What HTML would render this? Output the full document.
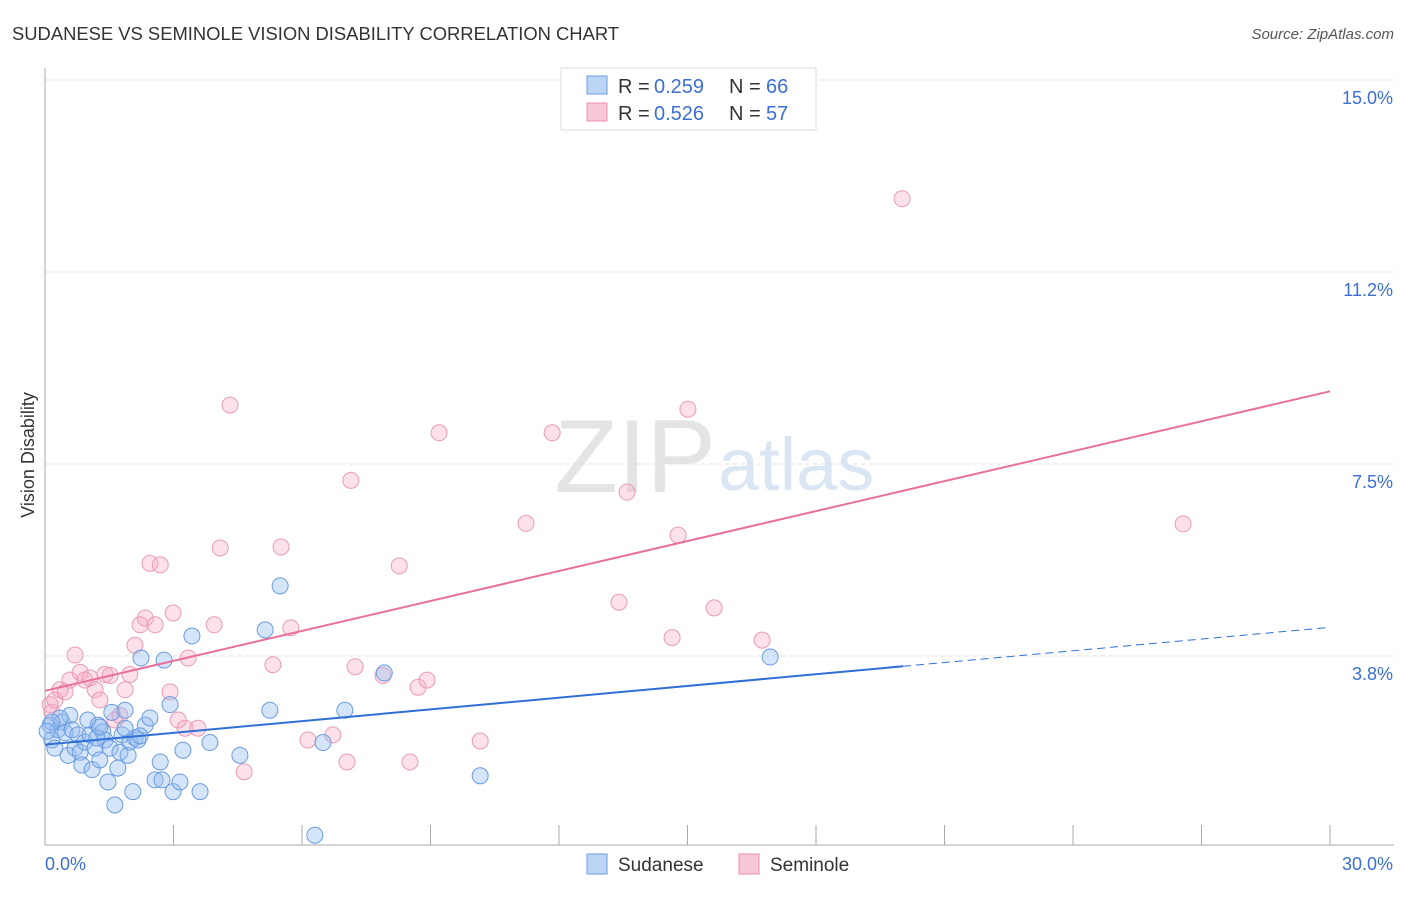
<!DOCTYPE html>
<html><head><meta charset="utf-8"><style>
body{margin:0;background:#fff;font-family:"Liberation Sans",sans-serif}
svg text{font-family:"Liberation Sans",sans-serif}
</style></head><body>
<svg id="chart" width="1406" height="892" xmlns="http://www.w3.org/2000/svg">
<text x="12" y="40" font-size="18.4" fill="#333">SUDANESE VS SEMINOLE VISION DISABILITY CORRELATION CHART</text>
<text x="1394" y="39" font-size="15" fill="#555" font-style="italic" text-anchor="end">Source: ZipAtlas.com</text>
<text x="716" y="492" font-size="104" fill="#e4e4e4" text-anchor="end" font-family="Liberation Serif">ZIP</text>
<text x="718" y="490" font-size="74" fill="#dbe6f5">atlas</text>
<text transform="translate(34,455) rotate(-90)" font-size="18" fill="#333" text-anchor="middle">Vision Disability</text>
<g id="grid"></g><g id="axes"></g><g id="marks"></g>
<g>
<rect x="561" y="68" width="255" height="62" fill="#fff" stroke="#ddd"/>
<rect x="587" y="76" width="20" height="18" fill="#bcd5f5" stroke="#6a9be0"/>
<rect x="587" y="103" width="20" height="18" fill="#f9c8d8" stroke="#e890b0"/>
<text x="618" y="93" font-size="20" fill="#333">R =</text><text x="654" y="93" font-size="20" fill="#3b6fd4">0.259</text>
<text x="729" y="93" font-size="20" fill="#333">N =</text><text x="766" y="93" font-size="20" fill="#3b6fd4">66</text>
<text x="618" y="120" font-size="20" fill="#333">R =</text><text x="654" y="120" font-size="20" fill="#3b6fd4">0.526</text>
<text x="729" y="120" font-size="20" fill="#333">N =</text><text x="766" y="120" font-size="20" fill="#3b6fd4">57</text>
</g>
<g>
<rect x="587" y="854" width="20" height="20" fill="#bcd5f5" stroke="#6a9be0"/>
<text x="618" y="871" font-size="19" fill="#333">Sudanese</text>
<rect x="739" y="854" width="20" height="20" fill="#f9c8d8" stroke="#e890b0"/>
<text x="770" y="871" font-size="19" fill="#333">Seminole</text>
</g>
</svg>
<script>
const yTicks=[15.0,11.25,7.5,3.75];
const yTickLabels=["15.0%","11.2%","7.5%","3.8%"];
const xTickCount=11;
const xMin=0,xMax=30,xLabels=["0.0%","30.0%"];
const sudX=[0.12,0.16,0.23,0.30,0.40,0.47,0.54,0.58,0.63,0.70,0.77,0.82,0.86,0.93,1.00,1.05,1.10,1.17,1.24,1.28,1.35,1.40,1.47,1.52,1.56,1.63,1.70,1.75,1.80,1.87,1.94,1.98,2.05,2.10,2.17,2.24,2.34,2.45,2.57,2.69,2.73,2.78,2.92,2.99,3.15,3.22,3.43,3.62,3.85,4.55,5.14,5.25,5.49,6.30,6.49,7.00,7.92,10.16,16.93,1.21,0.35,1.28,2.22,1.87,0.16,0.05];
const sudY=[2.40,2.11,1.95,2.31,2.46,2.25,1.81,2.59,2.31,1.95,2.21,1.87,1.62,2.07,2.50,2.21,1.53,1.95,2.40,1.72,2.27,2.11,1.29,1.95,2.65,0.84,1.56,1.87,2.21,2.69,1.81,2.07,1.10,2.15,2.11,3.71,2.40,2.54,1.33,1.68,1.33,3.67,2.80,1.10,1.29,1.91,4.14,1.10,2.06,1.81,4.26,2.69,5.12,0.25,2.06,2.69,3.42,1.41,3.73,2.15,2.54,2.36,2.19,2.34,2.46,2.28];
const semX=[0.12,0.16,0.23,0.35,0.47,0.58,0.70,0.82,0.93,1.05,1.17,1.28,1.40,1.52,1.63,1.75,1.87,1.98,2.10,2.22,2.34,2.45,2.57,2.69,2.92,2.99,3.11,3.27,3.34,3.57,3.95,4.09,4.32,4.65,5.32,5.51,5.74,6.14,6.72,7.05,7.14,7.24,7.89,8.27,8.52,8.71,8.92,9.20,10.16,11.23,11.84,13.40,13.59,14.64,14.78,15.01,15.62,16.74,20.01,26.57];
const semY=[2.80,2.65,2.89,3.09,3.05,3.28,3.77,3.43,3.28,3.32,3.09,2.89,3.39,3.37,2.50,2.59,3.09,3.39,3.96,4.36,4.49,5.56,4.36,5.53,3.05,4.59,2.50,2.34,3.71,2.34,4.36,5.86,8.65,1.49,3.58,5.88,4.30,2.11,2.21,1.68,7.18,3.54,3.37,5.51,1.68,3.14,3.28,8.11,2.09,6.34,8.11,4.80,6.95,4.11,6.11,8.57,4.69,4.06,12.68,6.33];
const sudTrend=[2.02,4.31], sudSolidEnd=20.03;
const semTrend=[3.07,8.92];
const NS="http://www.w3.org/2000/svg";
const xs=v=>45+(v-xMin)/(xMax-xMin)*1285;
const ys=v=>80+(15-v)*51.2;
function mk(tag,attrs,parent){const e=document.createElementNS(NS,tag);for(const k in attrs)e.setAttribute(k,attrs[k]);parent.appendChild(e);return e;}
const grid=document.getElementById('grid'),axes=document.getElementById('axes'),marks=document.getElementById('marks');
yTicks.forEach((t,i)=>{
 const l=mk('line',{x1:45,x2:1394,y1:ys(t),y2:ys(t),stroke:'#ddd','stroke-dasharray':'4,4'},grid);
 
 
 const tx=mk('text',{x:1393,y:ys(t)+24,'font-size':18,fill:'#3b6fd4','text-anchor':'end'},grid);
 tx.textContent=yTickLabels[i];
 
 
});
const ax=mk('line',{x1:45,x2:1394,y1:845,y2:845,stroke:'#aaa'},axes);


const ay=mk('line',{x1:45,x2:45,y1:68,y2:845,stroke:'#aaa'},axes);


for(let i=0;i<xTickCount;i++){
 const v=xMin+i*(xMax-xMin)/(xTickCount-1);
 const t=mk('line',{x1:xs(v),x2:xs(v),y1:825,y2:845,stroke:'#aaa'},axes);
 
 
}
[[xMin,'start',45],[xMax,'end',1393]].forEach((a,i)=>{
 const t=mk('text',{x:a[2],y:870,'font-size':18,fill:'#3b6fd4','text-anchor':a[1]},axes);
 t.textContent=xLabels[i];
 
 
});
semX.forEach((x,i)=>{
 const c=mk('circle',{cx:xs(x),cy:ys(semY[i]),r:8,fill:'rgba(245,170,196,0.35)',stroke:'#ea9ab6','stroke-width':1},marks);
 
 
});
sudX.forEach((x,i)=>{
 const c=mk('circle',{cx:xs(x),cy:ys(sudY[i]),r:8,fill:'rgba(150,190,240,0.4)',stroke:'#6a9be0','stroke-width':1},marks);
 
 
});
const sy=x=>sudTrend[0]+(sudTrend[1]-sudTrend[0])*(x-xMin)/(xMax-xMin);
const l1=mk('line',{x1:xs(xMin),y1:ys(sudTrend[0]),x2:xs(sudSolidEnd),y2:ys(sy(sudSolidEnd)),stroke:'#2f6fd6','stroke-width':2},marks);


const l2=mk('line',{x1:xs(sudSolidEnd),y1:ys(sy(sudSolidEnd)),x2:xs(xMax),y2:ys(sudTrend[1]),stroke:'#2f6fd6','stroke-width':1,'stroke-dasharray':'8,5'},marks);


const l3=mk('line',{x1:xs(xMin),y1:ys(semTrend[0]),x2:xs(xMax),y2:ys(semTrend[1]),stroke:'#e8709a','stroke-width':2},marks);


</script>
</body></html>
